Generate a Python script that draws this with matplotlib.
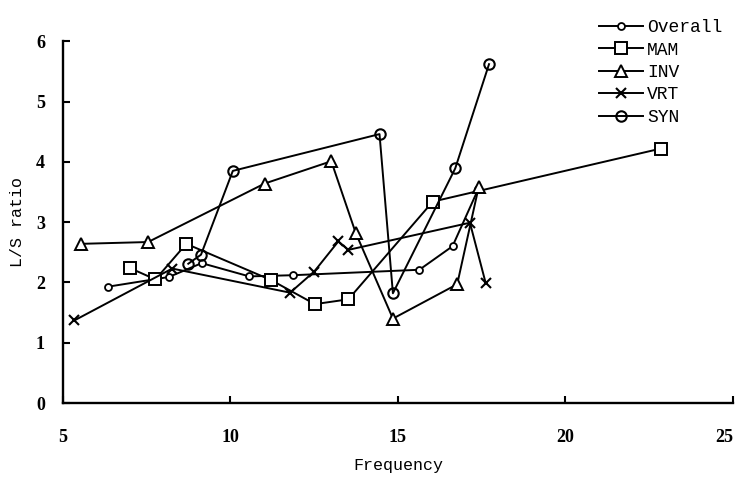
import matplotlib
matplotlib.use("Agg")
import matplotlib.pyplot as plt

plt.rcParams.update({
    "font.family": "Liberation Mono",
    "font.size": 12,
})

# ---- valores ----
OVERALL_X = [6.35, 8.16, 9.14, 10.56, 11.88, 15.64, 16.63, 17.40]
OVERALL_Y = [1.93, 2.09, 2.32, 2.10, 2.12, 2.21, 2.60, 3.55]

MAM_X = [6.99, 7.76, 8.68, 11.21, 12.52, 13.52, 16.04, 22.85]
MAM_Y = [2.24, 2.05, 2.64, 2.04, 1.64, 1.72, 3.34, 4.22]

INV_X = [5.54, 7.54, 11.02, 13.01, 13.74, 14.85, 16.77, 17.41]
INV_Y = [2.64, 2.67, 3.64, 4.01, 2.82, 1.40, 1.97, 3.58]

VRT_X = [5.34, 8.26, 11.78, 12.50, 13.22, 13.52, 17.15, 17.62]
VRT_Y = [1.37, 2.23, 1.83, 2.18, 2.68, 2.54, 2.99, 1.99]

SYN_X = [8.74, 9.12, 10.07, 14.45, 14.85, 16.71, 17.72]
SYN_Y = [2.31, 2.46, 3.85, 4.46, 1.82, 3.89, 5.62]

X_TICKS = [5, 10, 15, 20, 25]
Y_TICKS = [0, 1, 2, 3, 4, 5, 6]

fig = plt.figure(figsize=(7.38, 4.83), dpi=100)
ax = fig.add_axes([0.0854, 0.1656, 0.9076, 0.749])

kw = dict(color="black", linewidth=1.4)
ax.plot(OVERALL_X, OVERALL_Y, marker="o", markersize=5, markerfacecolor="white",
        markeredgewidth=1.3, label="Overall", **kw)
ax.plot(MAM_X, MAM_Y, marker="s", markersize=8.5, markerfacecolor="white",
        markeredgewidth=1.4, label="MAM", **kw)
ax.plot(INV_X, INV_Y, marker="^", markersize=8, markerfacecolor="white",
        markeredgewidth=1.4, label="INV", **kw)
ax.plot(VRT_X, VRT_Y, marker="x", markersize=7.5, markeredgewidth=1.5,
        label="VRT", **kw)
ax.plot(SYN_X, SYN_Y, marker="o", markersize=7.5, markerfacecolor="none",
        markeredgewidth=1.5, label="SYN", **kw)

ax.set_xlim(5, 25)
ax.set_ylim(0, 6)
ax.set_xticks(X_TICKS)
ax.set_yticks(Y_TICKS)
for s in ("top", "right"):
    ax.spines[s].set_visible(False)
for s in ("left", "bottom"):
    ax.spines[s].set_linewidth(1.7)
ax.tick_params(direction="in", length=5, width=1.5, labelsize=13)
ax.tick_params(axis="x", pad=19)
ax.tick_params(axis="y", pad=13)
for t in ax.get_xticklabels() + ax.get_yticklabels():
    t.set_fontfamily("Liberation Serif")
    t.set_fontweight("bold")
# o "25" fica encostado na borda direita
ax.get_xticklabels()[-1].set_horizontalalignment("right")

ax.set_xlabel("Frequency", fontsize=12, labelpad=8)
ax.set_ylabel("L/S ratio", fontsize=12, labelpad=8)

ax.legend(loc="upper left", bbox_to_anchor=(592 / 738, 1 - 12 / 483),
          bbox_transform=fig.transFigure, frameon=False, handlelength=2.4,
          handletextpad=0.25, labelspacing=0.3, borderaxespad=0, fontsize=13)

fig.savefig("out.png", dpi=100)
